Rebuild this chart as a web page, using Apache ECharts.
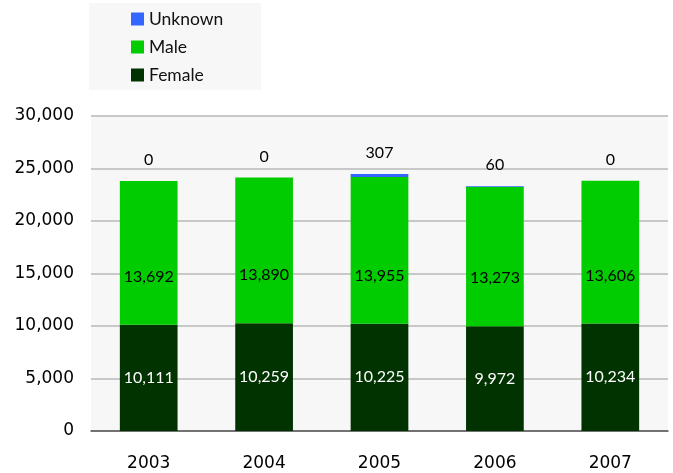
<!DOCTYPE html>
<html>
<head>
<meta charset="utf-8">
<script src="https://cdn.jsdelivr.net/npm/echarts@6/dist/echarts.min.js"></script>
<style>
  html, body { margin: 0; padding: 0; background: #fff; }
  #chart { width: 673px; height: 473px; }
</style>
</head>
<body>
<div id="chart"></div>
<script>
// 数据
const years = ['2003', '2004', '2005', '2006', '2007'];
const female = [10111, 10259, 10225, 9972, 10234];
const male = [13692, 13890, 13955, 13273, 13606];
const unknown = [0, 0, 307, 60, 0];

const fmt = v => v.toLocaleString('en-US');
const labelFont = 'Lato, "DejaVu Sans", sans-serif';

const chart = echarts.init(document.getElementById('chart'));
chart.setOption({
  animation: false,
  legend: {
    data: ['Unknown', 'Male', 'Female'],
    orient: 'vertical',
    left: 89,
    top: 3,
    backgroundColor: '#f7f7f7',
    padding: [7, 38, 6, 42],
    icon: 'rect',
    itemWidth: 13,
    itemHeight: 13,
    itemGap: 10,
    textStyle: { fontSize: 17.5, color: '#111', fontFamily: labelFont },
    selectedMode: false
  },
  grid: {
    left: 91, right: 5, top: 116, bottom: 42,
    show: true, backgroundColor: '#f7f7f7', borderWidth: 0
  },
  xAxis: {
    type: 'category',
    data: years,
    axisLine: { lineStyle: { color: '#555', width: 1.5 } },
    axisTick: { length: 6, lineStyle: { color: '#555' } },
    axisLabel: { fontSize: 17, color: '#000', margin: 24, fontFamily: '"DejaVu Sans", sans-serif' }
  },
  yAxis: {
    type: 'value',
    min: 0, max: 30000, interval: 5000,
    axisLine: { show: false },
    axisTick: { show: false },
    splitLine: { lineStyle: { color: '#c8c8c8', width: 2 } },
    axisLabel: { fontSize: 17, color: '#000', margin: 17, formatter: fmt, fontFamily: '"DejaVu Sans", sans-serif' }
  },
  series: [
    {
      name: 'Female', type: 'bar', stack: 'a', barWidth: '50%',
      itemStyle: { color: '#003300' },
      label: { show: true, position: 'inside', color: '#fff', fontSize: 16, fontFamily: labelFont,
        formatter: p => fmt(p.value) },
      data: female
    },
    {
      name: 'Male', type: 'bar', stack: 'a',
      itemStyle: { color: '#00cc00' },
      label: { show: true, position: 'insideBottom', distance: 40, color: '#000', fontSize: 16, fontFamily: labelFont,
        formatter: p => fmt(p.value) },
      data: male
    },
    {
      name: 'Unknown', type: 'bar', stack: 'a',
      itemStyle: { color: '#3366ff' },
      label: { show: true, position: 'top', distance: 13, color: '#000', fontSize: 16, fontFamily: labelFont,
        formatter: p => fmt(p.value) },
      data: unknown
    }
  ]
});
</script>
</body>
</html>
